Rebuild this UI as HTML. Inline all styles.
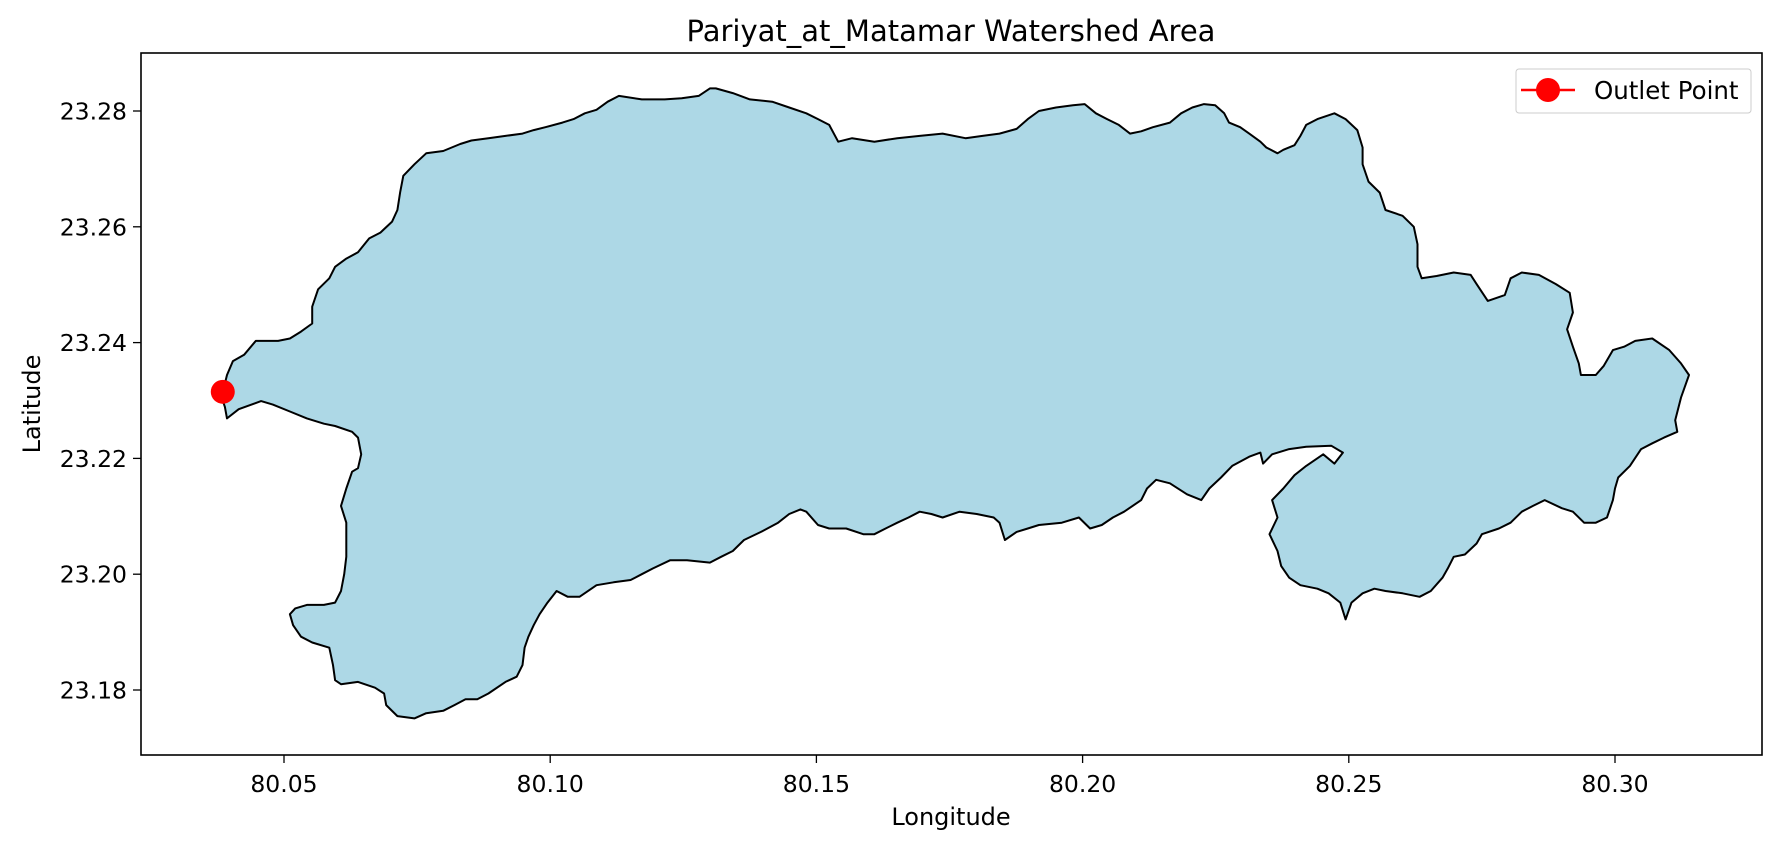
<!DOCTYPE html>
<html><head><meta charset="utf-8"><style>
body{margin:0;background:#fff;}
svg text{font-family:"DejaVu Sans","Liberation Sans",sans-serif;fill:#000;}
</style></head><body>
<svg id="chart" width="1781" height="848" viewBox="0 0 1781 848" xmlns="http://www.w3.org/2000/svg">
<rect width="1781" height="848" fill="#fff"/>
<text x="951" y="41" font-size="29" text-anchor="middle">Pariyat_at_Matamar Watershed Area</text>
<g id="plot"></g>
<rect x="141" y="53" width="1621" height="702" fill="none" stroke="#000" stroke-width="1.6"/>
<g id="ticks"></g>
<text x="951" y="825" font-size="24" text-anchor="middle">Longitude</text>
<text transform="translate(40,404) rotate(-90)" font-size="24" text-anchor="middle">Latitude</text>
<g>
<rect x="1516" y="69" width="235" height="44" rx="3" fill="#fff" fill-opacity="0.8" stroke="#ccc" stroke-width="1"/>
<line x1="1521" y1="90" x2="1575" y2="90" stroke="#f00" stroke-width="2.5"/>
<circle cx="1548" cy="90" r="12" fill="#f00"/>
<text x="1594" y="99" font-size="24.5">Outlet Point</text>
</g>
</svg>
<script>
const xTicks=[80.05,80.10,80.15,80.20,80.25,80.30];
const xTickLabels=["80.05","80.10","80.15","80.20","80.25","80.30"];
const yTicks=[23.18,23.20,23.22,23.24,23.26,23.28];
const yTickLabels=["23.18","23.20","23.22","23.24","23.26","23.28"];
const outletLon=[80.0385];
const outletLat=[23.2315];
const boundaryLon=[38.5,39.3,40.4,42.5,44.7,46.8,48.9,51.1,53.2,55.3,55.3,56.4,58.5,59.6,61.7,63.9,66.0,68.1,70.3,71.3,71.8,72.4,74.5,76.7,79.9,83.1,85.2,88.4,91.6,94.8,96.9,99.1,102.3,104.4,106.5,108.7,110.8,112.9,117.2,121.5,124.7,127.9,130.0,131.1,134.3,137.5,141.7,144.9,148.1,150.3,152.4,154.1,156.7,160.9,165.2,169.4,173.7,178.0,181.2,184.4,187.6,189.7,191.8,195.0,198.2,200.4,202.5,204.6,206.8,208.9,211.0,213.2,216.4,218.5,220.6,222.8,224.9,226.6,227.5,229.6,231.3,233.4,234.5,236.6,237.7,239.8,240.9,242.0,244.1,247.3,249.4,251.6,252.6,252.6,253.7,255.8,256.9,260.1,262.2,262.9,262.9,263.7,266.5,269.7,272.9,274.0,276.1,279.3,280.4,282.5,285.7,288.9,291.5,292.1,291.0,292.1,293.2,293.6,296.4,297.9,299.6,301.7,303.8,307.0,310.2,312.4,313.9,312.4,311.3,311.7,309.2,307.0,304.9,302.8,300.6,300.0,299.6,298.5,296.4,294.2,292.1,290.0,286.8,284.6,282.5,280.4,278.2,275.0,274.0,271.8,269.7,268.6,267.6,265.4,263.3,260.1,256.9,254.8,252.6,250.5,249.4,248.4,246.2,244.1,240.9,238.8,237.3,236.6,235.1,236.6,235.6,237.7,239.8,242.0,245.2,247.3,248.9,246.7,242.0,238.8,235.6,233.9,233.4,231.3,228.1,226.0,223.8,222.3,219.6,216.4,213.8,212.1,211.0,207.8,205.7,203.6,201.4,199.3,196.1,191.8,189.7,187.6,185.4,184.4,183.3,180.1,176.9,173.7,171.6,169.4,167.3,165.2,163.0,160.9,158.8,155.6,152.4,150.3,148.1,147.0,144.9,142.8,139.6,136.4,134.3,132.1,130.0,125.7,122.5,119.3,117.2,115.1,111.9,108.7,105.5,103.3,101.2,99.5,98.0,96.9,95.9,95.2,94.8,93.7,91.6,88.4,86.3,84.1,82.0,79.9,76.7,74.5,71.3,69.2,68.8,67.1,63.9,60.7,59.6,59.2,58.5,55.3,53.2,51.7,51.1,52.1,54.3,57.5,59.6,60.7,61.3,61.7,61.7,61.7,60.7,61.7,62.8,63.9,64.5,63.9,62.8,59.6,57.5,54.3,51.1,47.9,45.7,41.5,39.3,38.9,38.3];
const boundaryLat=[231.5,234.4,236.8,237.9,240.3,240.3,240.3,240.7,241.9,243.3,246.2,249.2,251.1,253.1,254.5,255.6,258.0,259.0,260.9,262.9,265.9,268.8,270.8,272.7,273.1,274.3,274.9,275.3,275.7,276.1,276.7,277.2,278.0,278.6,279.6,280.2,281.6,282.6,282.0,282.0,282.2,282.6,283.9,283.9,283.1,282.0,281.6,280.6,279.6,278.6,277.6,274.7,275.3,274.7,275.3,275.7,276.1,275.3,275.7,276.1,276.9,278.6,280.0,280.6,281.0,281.2,279.6,278.6,277.6,276.1,276.5,277.2,278.0,279.6,280.6,281.2,281.0,279.6,278.0,277.2,276.1,274.7,273.7,272.7,273.3,274.1,275.7,277.6,278.6,279.6,278.6,276.7,273.7,270.8,267.8,265.9,262.9,261.9,260.0,257.0,253.1,251.1,251.5,252.1,251.7,250.1,247.2,248.2,251.1,252.1,251.7,250.1,248.6,245.2,242.3,239.3,236.4,234.4,234.4,236.0,238.7,239.3,240.3,240.7,238.7,236.4,234.4,230.5,226.6,224.6,223.6,222.6,221.6,218.7,216.7,214.8,212.8,209.8,208.9,208.9,210.8,211.4,212.8,211.8,210.8,208.9,207.9,206.9,205.3,203.4,203.0,201.0,199.4,197.1,196.1,196.7,197.1,197.5,196.7,195.1,192.2,195.1,196.7,197.5,198.1,199.4,201.4,204.0,206.9,209.8,212.8,214.8,217.1,218.7,220.7,219.1,221.0,222.2,222.0,221.6,220.7,219.1,221.0,220.3,218.7,216.7,214.8,212.8,213.8,215.7,216.3,214.8,212.8,210.8,209.8,208.5,207.9,209.8,208.9,208.5,207.9,207.3,205.9,208.9,209.8,210.4,210.8,209.8,210.4,210.8,209.8,208.9,207.9,206.9,206.9,207.9,207.9,208.5,210.8,211.2,210.4,208.9,207.3,205.9,204.0,203.0,202.0,202.4,202.4,201.0,200.0,199.0,198.6,198.1,196.1,196.1,197.1,195.1,193.1,191.2,189.2,187.3,184.3,182.3,181.4,179.4,178.4,178.4,177.4,176.4,176.0,175.1,175.5,177.4,179.4,180.4,181.4,181.0,181.7,184.3,187.3,188.2,189.2,191.2,193.1,194.1,194.7,194.7,195.1,197.1,200.0,203.0,205.9,208.9,211.8,214.8,217.7,218.3,220.7,223.6,224.6,225.6,226.0,226.9,228.1,229.3,229.9,228.5,226.9,228.9,230.5];

const NS="http://www.w3.org/2000/svg";
function xScale(lon){return 284+(lon-80.05)/0.05*266.2;}
function yScale(lat){return 111+(23.28-lat)/0.02*115.8;}
const plot=document.getElementById('plot');
const ticks=document.getElementById('ticks');

let d="";
for(let i=0;i<boundaryLon.length;i++){
  const lon=80+boundaryLon[i]/1000, lat=23+boundaryLat[i]/1000;
  d+=(i?"L":"M")+xScale(lon).toFixed(1)+","+yScale(lat).toFixed(1);
}
d+="Z";
const poly=document.createElementNS(NS,'path');


poly.setAttribute('d',d);
poly.setAttribute('fill','#add8e6');
poly.setAttribute('stroke','#000');
poly.setAttribute('stroke-width','2');
poly.setAttribute('stroke-linejoin','round');
plot.appendChild(poly);

for(let i=0;i<outletLon.length;i++){
  const c=document.createElementNS(NS,'circle');
  
  
  c.setAttribute('cx',xScale(outletLon[i]));
  c.setAttribute('cy',yScale(outletLat[i]));
  c.setAttribute('r','12');
  c.setAttribute('fill','#f00');
  plot.appendChild(c);
}

xTicks.forEach((v,i)=>{
  const x=xScale(v);
  const l=document.createElementNS(NS,'line');
  
  
  l.setAttribute('x1',x);l.setAttribute('x2',x);l.setAttribute('y1',755);l.setAttribute('y2',763);
  l.setAttribute('stroke','#000');l.setAttribute('stroke-width','1.3');
  ticks.appendChild(l);
  const t=document.createElementNS(NS,'text');
  
  
  t.setAttribute('x',x);t.setAttribute('y',792);t.setAttribute('font-size','23.5');t.setAttribute('text-anchor','middle');
  t.textContent=xTickLabels[i];
  ticks.appendChild(t);
});
yTicks.forEach((v,i)=>{
  const y=yScale(v);
  const l=document.createElementNS(NS,'line');
  
  
  l.setAttribute('x1',133);l.setAttribute('x2',141);l.setAttribute('y1',y);l.setAttribute('y2',y);
  l.setAttribute('stroke','#000');l.setAttribute('stroke-width','1.3');
  ticks.appendChild(l);
  const t=document.createElementNS(NS,'text');
  
  
  t.setAttribute('x',127);t.setAttribute('y',y+8.5);t.setAttribute('font-size','23.5');t.setAttribute('text-anchor','end');
  t.textContent=yTickLabels[i];
  ticks.appendChild(t);
});
</script>
</body></html>
